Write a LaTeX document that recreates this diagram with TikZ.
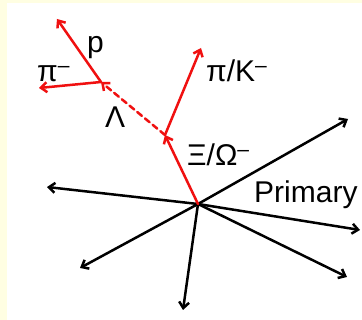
\documentclass[tikz,border=0pt]{standalone}
\usepackage{fontspec}
\setmainfont{Liberation Sans}
\usetikzlibrary{arrows.meta}
\definecolor{bgyellow}{HTML}{FFFEE2}
\definecolor{trkred}{HTML}{F01010}
\newcommand{\supminus}{\textsuperscript{–}}
\begin{document}
\begin{tikzpicture}[x=1pt,y=-1pt,
  trk/.style={line width=2.5pt, line cap=round, -{Straight Barb[length=6pt,width=10pt,line width=2.5pt]}},
  prim/.style={trk,black},
  sec/.style={trk,trkred},
  lbl/.style={font=\fontsize{30}{33}\selectfont, inner sep=0pt, anchor=base west}]
\fill[bgyellow] (0,0) rectangle (362,320);
\fill[white] (7,3) rectangle (362,320);
\useasboundingbox (0,0) rectangle (362,320);
% vertices
\coordinate (V) at (198,204);
\coordinate (D) at (165,135);
\coordinate (L) at (101,82);
% primary track ends
\coordinate (e1) at (348,119);
\coordinate (e2) at (47,187);
\coordinate (e3) at (80,268);
\coordinate (e4) at (183,310);
\coordinate (e5) at (360,230);
\coordinate (e6) at (347,277);
% secondary ends
\coordinate (pk) at (201,48);
\coordinate (pr) at (57,19);
\coordinate (pm) at (39,88);
% primary tracks
\foreach \e in {e1,e2,e3,e4,e5,e6} \draw[prim] (V) -- (\e);
% secondary
\draw[sec] (V) -- (D);
\draw[sec] (D) -- (pk);
\draw[sec, dash pattern=on 6pt off 4pt] (D) -- (L);
\draw[sec] (L) -- (pr);
\draw[sec] (L) -- (pm);
% labels
\node[lbl] (lp) at (87,53) {p};
\node[lbl] (lpim) at (37,82) {π\supminus};
\node[lbl] (llam) at (105,128) {Λ};
\node[lbl] (lpik) at (206,82) {π/K\supminus};
\node[lbl] (lxi) at (187,166) {Ξ/Ω\supminus};
\node[lbl] (lprim) at (254,203) {Primary};
\end{tikzpicture}
\end{document}
